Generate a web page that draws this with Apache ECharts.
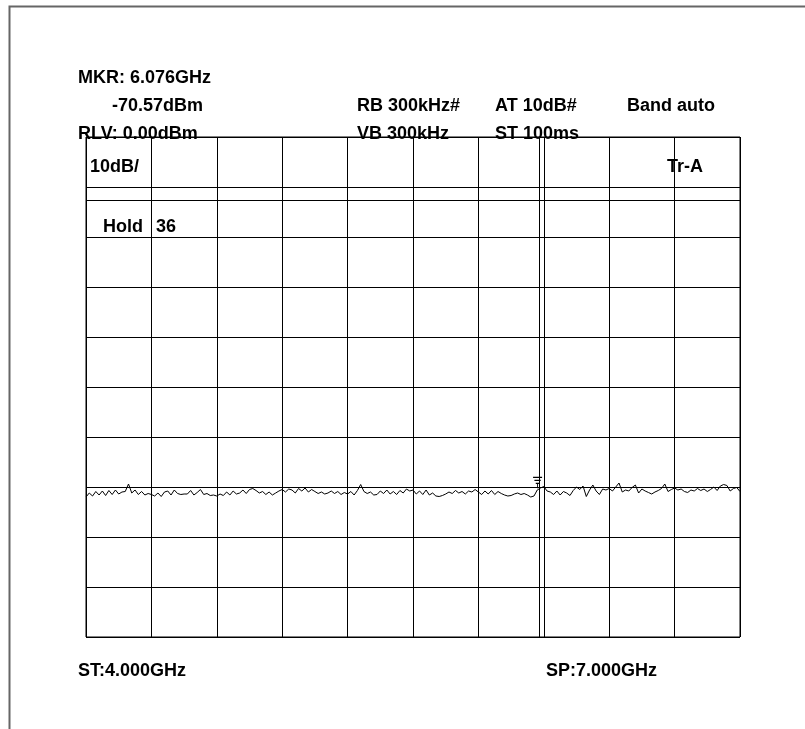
<!DOCTYPE html>
<html>
<head>
    <meta charset="UTF-8">
    <title>Spectrum 4-7GHz</title>
    <script src="https://cdn.jsdelivr.net/npm/echarts@6/dist/echarts.min.js"></script>
    <style>
        html, body { margin: 0; padding: 0; background: #fff; }
        #main { width: 805px; height: 729px; }
    </style>
</head>
<body>
    <div id="main"></div>
    <script>
        // sweep settings (GHz)
        var startGHz = 4.0;
        var stopGHz = 7.0;
        var stepGHz = 0.015;
        var markerGHz = 6.076;
        var markerLevel = -70.57;
        var refLevel = 0;      // dBm, top of screen
        var dbPerDiv = 10;

        // trace levels, dBm, one per sweep step (20 per division)
        var traceLevels = [
            -72.0, -71.2, -71.8, -70.9, -71.6, -70.8, -71.7, -70.7, -71.5, -70.6, -71.4, -71.0, -70.9, -69.4, -71.2, -70.6, -71.5, -70.9, -71.6, -71.3,
            -71.5, -71.8, -71.2, -71.9, -71.0, -70.8, -71.6, -70.6, -71.3, -71.5, -71.4, -71.4, -70.7, -71.6, -71.1, -70.5, -71.5, -71.3, -71.7, -71.6,
            -71.8, -71.4, -71.7, -71.0, -71.6, -70.8, -71.4, -71.2, -70.6, -71.3, -70.5, -70.3, -70.7, -71.2, -70.9, -71.5, -71.0, -71.6, -71.2, -70.8,
            -70.5, -71.0, -70.4, -70.6, -71.2, -70.3, -70.8, -70.2, -71.0, -70.5, -70.9, -71.3, -71.0, -71.4, -71.2, -70.8, -71.3, -70.9, -71.5, -71.1,
            -71.4, -70.9, -71.6, -70.7, -69.5, -70.9, -71.3, -71.0, -71.6, -71.5, -70.8, -71.3, -70.6, -71.4, -70.9, -71.5, -70.7, -71.2, -70.4, -70.8,
            -70.6, -71.4, -70.8, -71.5, -70.6, -71.6, -71.2, -71.8, -71.9, -71.7, -71.4, -71.0, -71.3, -70.7, -71.2, -70.9, -71.4, -70.8, -71.0, -70.5,
            -71.0, -71.5, -70.8, -71.4, -70.7, -71.5, -70.9, -71.3, -71.6, -71.8, -71.7, -71.4, -71.2, -71.5, -71.3, -71.6, -72.0, -71.8, -70.6, -70.2,
            -69.9, -70.8, -71.0, -71.5, -70.8, -71.6, -70.9, -71.2, -71.7, -70.7, -70.0, -70.5, -69.8, -71.9, -70.6, -69.6, -70.8, -71.5, -70.4, -70.6,
            -70.3, -70.8, -70.0, -69.2, -71.0, -70.6, -70.8, -70.1, -69.6, -71.2, -70.4, -70.8, -71.1, -71.4, -71.0, -70.7, -70.3, -69.4, -70.9, -70.5,
            -70.2, -70.6, -70.4, -70.9, -71.1, -70.6, -70.8, -70.3, -70.7, -70.4, -70.9, -70.5, -70.0, -70.7, -69.8, -69.5, -69.7, -70.8, -70.3, -70.1, -70.9
        ];

        // extra divider under the top row of the display
        var dividerLevel = -12.6;

        var traceData = traceLevels.map(function (v, i) {
            return [+(startGHz + i * stepGHz).toFixed(3), v];
        });

        var font = 'bold 18px "Liberation Sans", Arial, sans-serif';
        function label(x, y, text) {
            return {
                type: 'text', left: x, top: y,
                style: { text: text, font: font, fill: '#000', verticalAlign: 'middle' }
            };
        }

        var myChart = echarts.init(document.getElementById('main'));
        var option = {
            animation: false,
            backgroundColor: '#fff',
            grid: {
                left: 86, top: 137, width: 654, height: 500,
                show: true, borderColor: '#000', borderWidth: 1
            },
            xAxis: {
                type: 'value',
                min: startGHz, max: stopGHz, interval: 0.3,
                axisLine: { show: false }, axisTick: { show: false }, axisLabel: { show: false },
                splitLine: { show: true, lineStyle: { color: '#000', width: 1 } }
            },
            yAxis: {
                type: 'value',
                min: refLevel - 10 * dbPerDiv, max: refLevel, interval: dbPerDiv,
                axisLine: { show: false }, axisTick: { show: false }, axisLabel: { show: false },
                splitLine: { show: true, lineStyle: { color: '#000', width: 1 } }
            },
            graphic: [
                {
                    type: 'rect', left: 7, top: 4, z: 100,
                    shape: { width: 830, height: 760 },
                    style: { fill: 'none', stroke: '#666', lineWidth: 2 }
                },
                label(78, 69, 'MKR: 6.076GHz'),
                label(112, 97, '-70.57dBm'),
                label(357, 97, 'RB 300kHz#'),
                label(495, 97, 'AT 10dB#'),
                label(627, 97, 'Band auto'),
                label(78, 125, 'RLV: 0.00dBm'),
                label(357, 125, 'VB 300kHz'),
                label(495, 125, 'ST 100ms'),
                label(90, 158, '10dB/'),
                label(667, 158, 'Tr-A'),
                label(103, 218, 'Hold'),
                label(156, 218, '36'),
                label(78, 662, 'ST:4.000GHz'),
                label(546, 662, 'SP:7.000GHz')
            ],
            series: [
                {
                    type: 'line',
                    data: traceData,
                    showSymbol: false,
                    lineStyle: { color: '#000', width: 1 },
                    markLine: {
                        silent: true,
                        symbol: ['none', 'none'],
                        label: { show: false },
                        lineStyle: { color: '#000', width: 1, type: 'solid' },
                        data: [
                            { xAxis: markerGHz },
                            { yAxis: dividerLevel }
                        ]
                    },
                    markPoint: {
                        silent: true,
                        symbol: 'path://M0,0H10M1.5,3H8.5M3,6H7M5,6V11',
                        symbolSize: [9, 11],
                        symbolOffset: [-1, -7],
                        itemStyle: { color: 'none', borderColor: '#000', borderWidth: 1 },
                        label: { show: false },
                        data: [{ coord: [markerGHz, markerLevel] }]
                    }
                }
            ]
        };
        myChart.setOption(option);
    </script>
</body>
</html>
